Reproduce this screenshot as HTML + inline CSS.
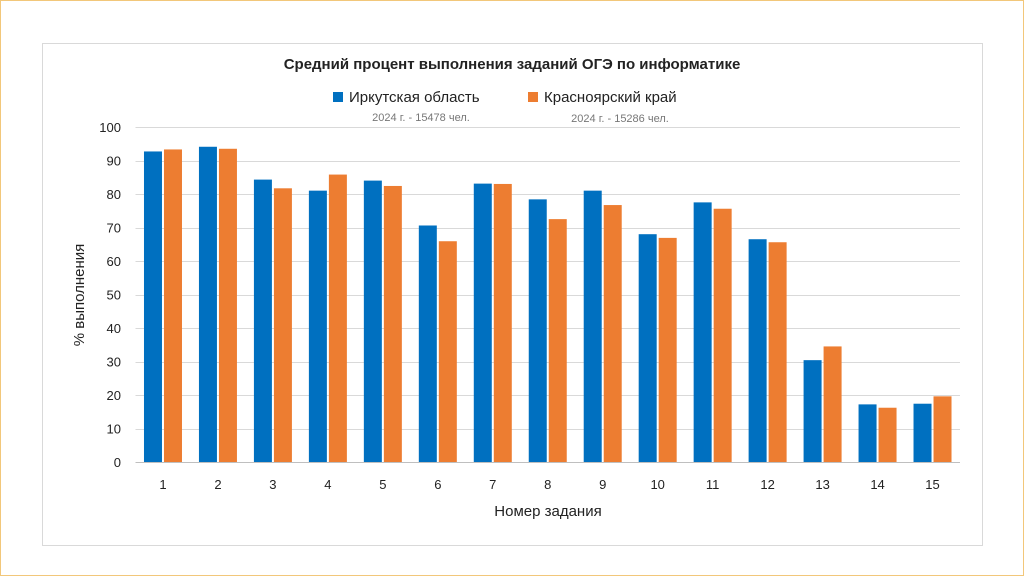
<!DOCTYPE html>
<html><head><meta charset="utf-8"><style>
body{margin:0;width:1024px;height:576px;background:#fff;overflow:hidden;font-family:"Liberation Sans",sans-serif}
</style></head><body>
<svg width="1024" height="576" font-family="Liberation Sans, sans-serif">
<rect x="0.5" y="0.5" width="1023" height="575" fill="none" stroke="#f2c77a"/>
<rect x="42.5" y="43.5" width="940" height="502" fill="#fff" stroke="#d9d9d9"/>
<text x="512" y="69" text-anchor="middle" font-size="15" font-weight="bold" fill="#222">Средний процент выполнения заданий ОГЭ по информатике</text>
<rect x="333" y="92" width="10" height="10" fill="#0070c0"/>
<text x="349" y="102" font-size="15" fill="#222">Иркутская область</text>
<rect x="528" y="92" width="10" height="10" fill="#ed7d31"/>
<text x="544" y="102" font-size="15" fill="#222">Красноярский край</text>
<text x="421" y="121" text-anchor="middle" font-size="11" fill="#777">2024 г. - 15478 чел.</text>
<text x="620" y="122" text-anchor="middle" font-size="11" fill="#777">2024 г. - 15286 чел.</text>
<g id="grid"></g><g id="bars"></g><g id="labels"></g>
<text transform="translate(84,295) rotate(-90)" text-anchor="middle" font-size="15" fill="#222">% выполнения</text>
<text x="548" y="516" text-anchor="middle" font-size="15" fill="#222">Номер задания</text>
</svg>
<script>
const categories=["1","2","3","4","5","6","7","8","9","10","11","12","13","14","15"];
const irkutsk=[92.7,94.1,84.3,81,84,70.6,83.1,78.4,81,68,77.5,66.5,30.4,17.2,17.4];
const krasnoyarsk=[93.3,93.5,81.7,85.8,82.4,65.9,83,72.5,76.7,66.9,75.6,65.6,34.5,16.2,19.6];
const yTicks=[0,10,20,30,40,50,60,70,80,90,100];
const NS="http://www.w3.org/2000/svg";
const x0=135.5,x1=960,y0=462,y1=127,yMax=100;
const bw=(x1-x0)/categories.length;
const y=v=>y0-(v/yMax)*(y0-y1);
function mk(t,a,p){const e=document.createElementNS(NS,t);for(const k in a)e.setAttribute(k,a[k]);p.appendChild(e);return e;}
const g=document.getElementById('grid'),b=document.getElementById('bars'),l=document.getElementById('labels');
yTicks.forEach(v=>{
 const ln=mk('line',{x1:x0,x2:x1,y1:Math.round(y(v))+0.5,y2:Math.round(y(v))+0.5,stroke:v===0?'#bfbfbf':'#d9d9d9'},g);
 
 
 const t=mk('text',{x:121,y:y(v)+5,'text-anchor':'end','font-size':13,fill:'#222'},l);
 t.textContent=v;
 
 
});
categories.forEach((c,i)=>{
 const cx=x0+bw*(i+0.5);
 const r1=mk('rect',{x:cx-19,y:y(irkutsk[i]),width:18,height:y0-y(irkutsk[i]),fill:'#0070c0'},b);
 
 
 const r2=mk('rect',{x:cx+1,y:y(krasnoyarsk[i]),width:18,height:y0-y(krasnoyarsk[i]),fill:'#ed7d31'},b);
 
 
 const t=mk('text',{x:cx,y:489,'text-anchor':'middle','font-size':13,fill:'#222'},l);
 t.textContent=c;
 
 
});
</script>
</body></html>
